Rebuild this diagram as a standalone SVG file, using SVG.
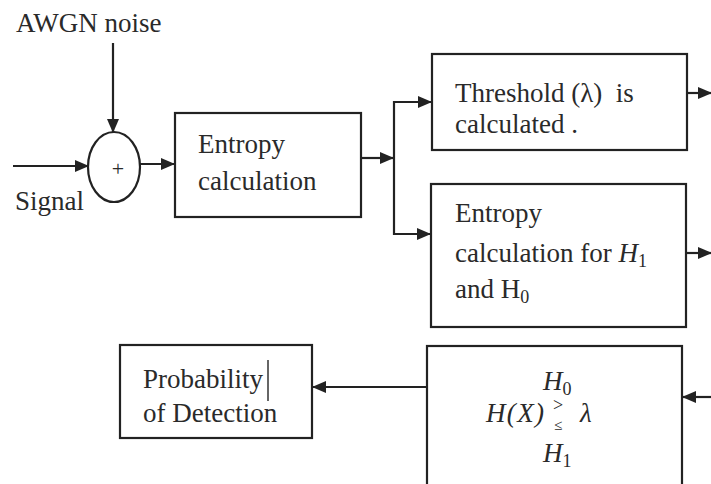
<svg xmlns="http://www.w3.org/2000/svg" width="711" height="484" viewBox="0 0 711 484">
<style>
.box{fill:#fff;stroke:#222;stroke-width:2.2}
.ln{fill:none;stroke:#222;stroke-width:2.2}
text{font-family:'Liberation Serif','Times New Roman',serif;fill:#2a2a2a}
.t{font-size:27px}
.m{font-size:27px;font-style:italic}
.sub{font-size:18px;font-style:normal}
</style>
<defs>
<marker id="ah" markerWidth="14" markerHeight="12" refX="13" refY="6" orient="auto" markerUnits="userSpaceOnUse">
<path d="M0,0 L14,6 L0,12 Z" fill="#222"/>
</marker>
</defs>
<rect width="711" height="484" fill="#fff"/>
<g id="connectors">
<line class="ln" x1="113" y1="43" x2="113" y2="132" marker-end="url(#ah)"/>
<line class="ln" x1="13" y1="166" x2="88" y2="166" marker-end="url(#ah)"/>
<line class="ln" x1="140" y1="164" x2="174" y2="164" marker-end="url(#ah)"/>
<line class="ln" x1="361" y1="158" x2="393" y2="158" marker-end="url(#ah)"/>
<line class="ln" x1="394" y1="101" x2="394" y2="235"/>
<line class="ln" x1="393" y1="102" x2="431" y2="102" marker-end="url(#ah)"/>
<line class="ln" x1="393" y1="234" x2="430" y2="234" marker-end="url(#ah)"/>
<line class="ln" x1="687" y1="93" x2="711" y2="93" marker-end="url(#ah)"/>
<line class="ln" x1="686" y1="253" x2="711" y2="253" marker-end="url(#ah)"/>
<line class="ln" x1="711" y1="397" x2="683" y2="397" marker-end="url(#ah)"/>
<line class="ln" x1="427" y1="387" x2="313" y2="387" marker-end="url(#ah)"/>
</g>
<g id="awgn"><text class="t" x="16" y="32">AWGN noise</text></g>
<g id="signal"><text class="t" x="15" y="210">Signal</text></g>
<g id="adder">
<ellipse cx="114" cy="167" rx="26" ry="35" fill="#fff" stroke="#222" stroke-width="2.2"/>
<text x="118" y="176" font-size="22" fill="#555" text-anchor="middle">+</text>
</g>
<g id="entropy">
<rect class="box" x="175" y="113" width="186" height="104"/>
<text class="t" x="198" y="153">Entropy</text>
<text class="t" x="198" y="190">calculation</text>
</g>
<g id="threshold">
<rect class="box" x="432" y="54" width="255" height="96"/>
<text class="t" x="455" y="102" xml:space="preserve">Threshold (λ)  is</text>
<text class="t" x="455" y="133">calculated .</text>
</g>
<g id="entropyH">
<rect class="box" x="431" y="184" width="255" height="143"/>
<text class="t" x="455" y="222">Entropy</text>
<text class="t" x="455" y="262">calculation for <tspan font-style="italic">H</tspan><tspan class="sub" dy="5">1</tspan></text>
<text class="t" x="455" y="298">and H<tspan class="sub" dy="5">0</tspan></text>
</g>
<g id="decision">
<rect class="box" x="427" y="346" width="255" height="140"/>
<text class="m" x="543" y="390">H<tspan class="sub" dy="5">0</tspan></text>
<text class="m" x="486" y="422" textLength="58">H(X)</text>
<text x="558" y="411" font-size="18" text-anchor="middle">&gt;</text>
<text x="558" y="430" font-size="15" text-anchor="middle">≤</text>
<text class="m" x="580" y="422">λ</text>
<text class="m" x="543" y="462">H<tspan class="sub" dy="5">1</tspan></text>
</g>
<g id="probability">
<rect class="box" x="120" y="345" width="192" height="93"/>
<text class="t" x="143" y="388">Probability</text>
<text class="t" x="143" y="422">of Detection</text>
<line x1="268" y1="360" x2="268" y2="401" stroke="#333" stroke-width="1.5"/>
</g>
</svg>
